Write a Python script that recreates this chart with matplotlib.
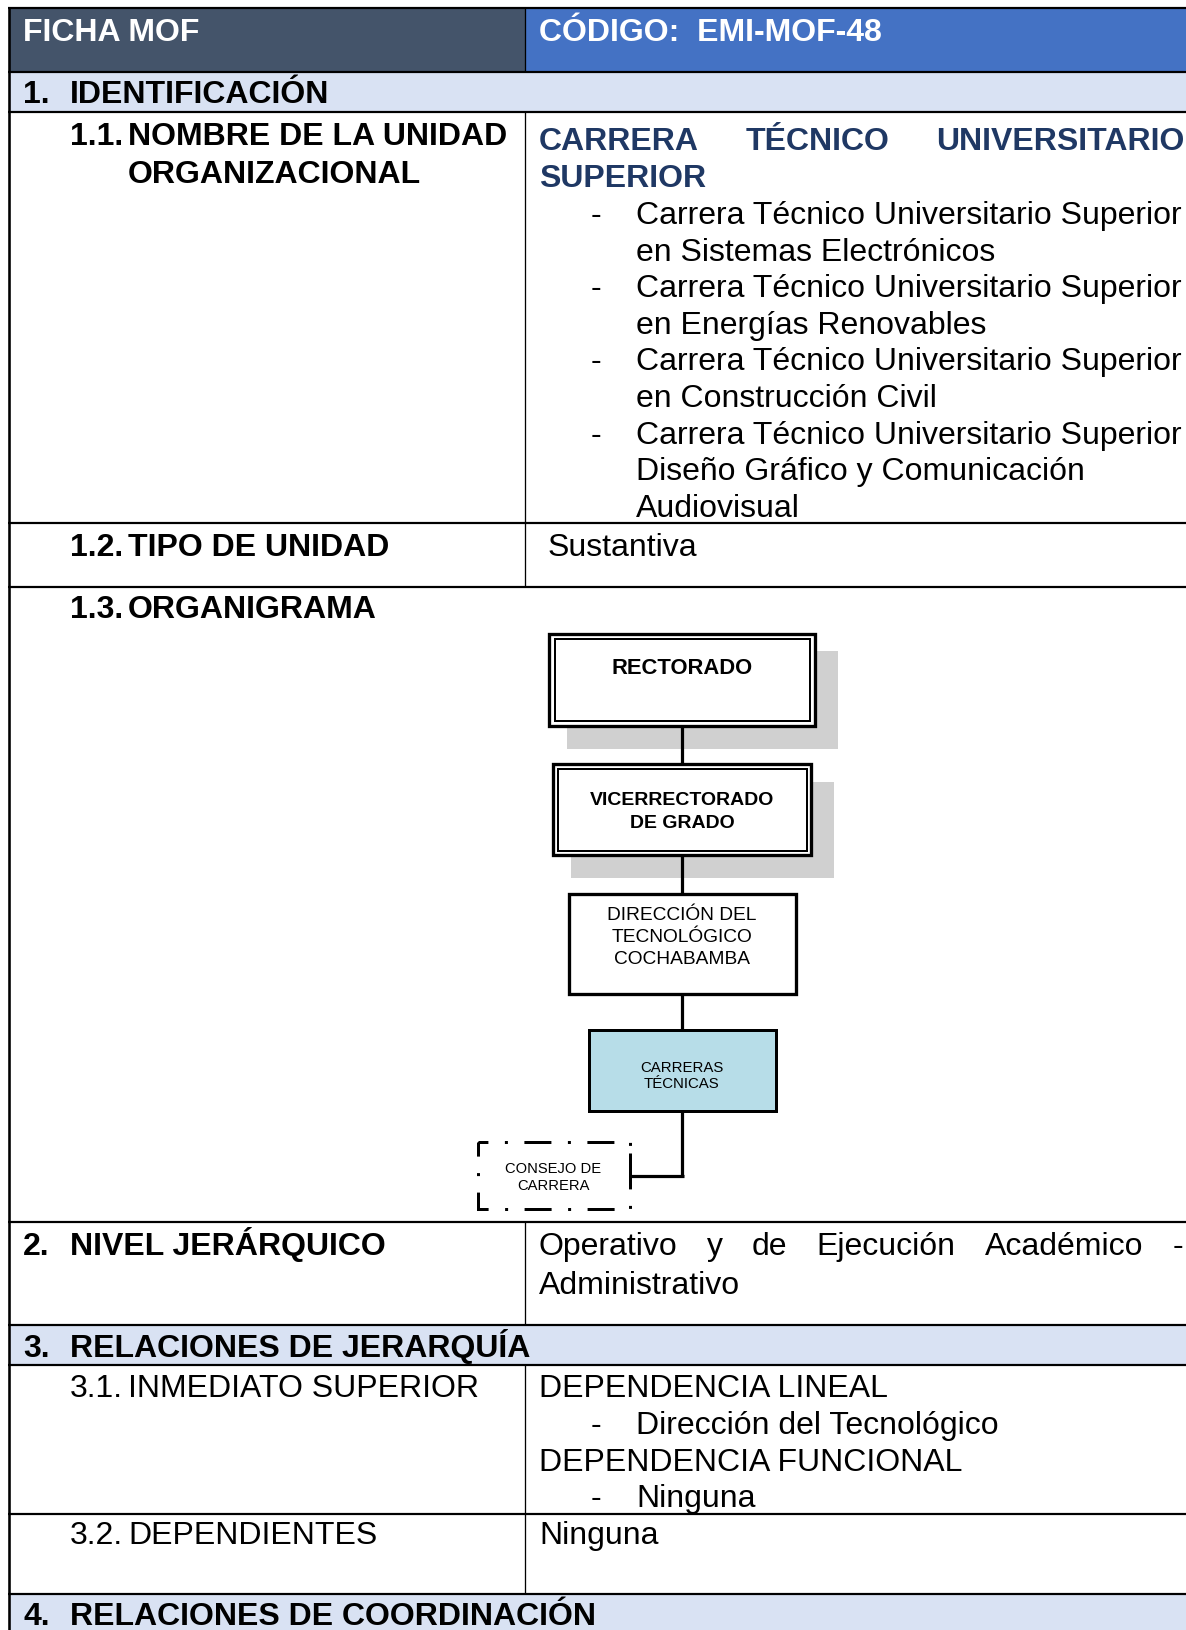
import matplotlib
matplotlib.use("Agg")
import matplotlib.pyplot as plt
from matplotlib.patches import Rectangle

# ---------------- content ----------------
header_left = "FICHA MOF"
header_right = "CÓDIGO:  EMI-MOF-48"
sec1 = ("1.", "IDENTIFICACIÓN")
sec3 = ("3.", "RELACIONES DE JERARQUÍA")
sec4 = ("4.", "RELACIONES DE COORDINACIÓN")
row11_num = "1.1."
row11_label = ["NOMBRE DE LA UNIDAD", "ORGANIZACIONAL"]
unit_title_line1 = ["CARRERA", "TÉCNICO", "UNIVERSITARIO"]
unit_title_line2 = "SUPERIOR"
careers = [
    ["Carrera Técnico Universitario Superior", "en Sistemas Electrónicos"],
    ["Carrera Técnico Universitario Superior", "en Energías Renovables"],
    ["Carrera Técnico Universitario Superior", "en Construcción Civil"],
    ["Carrera Técnico Universitario Superior", "Diseño Gráfico y Comunicación", "Audiovisual"],
]
row12 = ("1.2.", "TIPO DE UNIDAD", "Sustantiva")
row13 = ("1.3.", "ORGANIGRAMA")
org_units = ["RECTORADO", ["VICERRECTORADO", "DE GRADO"],
             ["DIRECCIÓN DEL", "TECNOLÓGICO", "COCHABAMBA"],
             ["CARRERAS", "TÉCNICAS"], ["CONSEJO DE", "CARRERA"]]
row2 = ("2.", "NIVEL JERÁRQUICO")
row2_line1 = ["Operativo", "y", "de", "Ejecución", "Académico", "-"]
row2_line2 = "Administrativo"
row31 = ("3.1.", "INMEDIATO SUPERIOR")
row31_right = [("DEPENDENCIA LINEAL", False), ("Dirección del Tecnológico", True),
               ("DEPENDENCIA FUNCIONAL", False), ("Ninguna", True)]
row32 = ("3.2.", "DEPENDIENTES", "Ninguna")

# ---------------- styling ----------------
W, H = 1186, 1631
FONT = "Liberation Sans"
FS = 23.0
NAVY = "#1F3864"
HDR_L = "#44546A"
HDR_R = "#4472C4"
SEC = "#D9E2F3"
SHADOW = "#D0D0D0"
LIGHTBLUE = "#B7DDE8"
PX = 0.72  # points per pixel at dpi 100

fig = plt.figure(figsize=(W / 100, H / 100), dpi=100)
ax = fig.add_axes([0, 0, 1, 1])
ax.set_xlim(0, W)
ax.set_ylim(H, 0)
ax.axis("off")
renderer = fig.canvas.get_renderer()


def put(x, yc, s, size=FS, bold=False, color="black", ha="left"):
    base = yc + 0.358 * size * 100 / 72
    return ax.text(x, base, s, fontsize=size, fontfamily=FONT,
                   fontweight="bold" if bold else "normal", color=color,
                   ha=ha, va="baseline")


def justify(x0, x1, yc, words, size=FS, bold=False, color="black"):
    ts = [put(x0, yc, w, size, bold, color) for w in words]
    widths = [t.get_window_extent(renderer).width for t in ts]
    gap = (x1 - x0 - sum(widths)) / (len(words) - 1)
    x = x0
    for t, w in zip(ts, widths):
        t.set_x(x)
        x += w + gap


def rect(x0, y0, x1, y1, **kw):
    ax.add_patch(Rectangle((x0, y0), x1 - x0, y1 - y0, **kw))


def hline(y, x0, x1, lw=2.0):
    ax.plot([x0, x1], [y, y], color="black", lw=lw * PX, solid_capstyle="butt")


def vline(x, y0, y1, lw=2.0):
    ax.plot([x, x], [y0, y1], color="black", lw=lw * PX, solid_capstyle="butt")


# ---------------- table geometry ----------------
XL, XD, XR = 8.5, 525, W + 5
rows = [9, 73, 113, 524, 588, 1223, 1326, 1366, 1515, 1595]

# fills
rect(XL, rows[0], XD, rows[1], facecolor=HDR_L, edgecolor="none")
rect(XD, rows[0], XR, rows[1], facecolor=HDR_R, edgecolor="none")
rect(XL, rows[1], XR, rows[2], facecolor=SEC, edgecolor="none")
rect(XL, rows[6], XR, rows[7], facecolor=SEC, edgecolor="none")
rect(XL, rows[9], XR, H + 5, facecolor=SEC, edgecolor="none")

# lines
for y in rows:
    hline(y, XL - 1, XR, lw=2.2)
vline(XL, rows[0] - 1, H + 5, lw=2.6)
for a, b in [(0, 1), (2, 3), (3, 4), (5, 6), (7, 8), (8, 9)]:
    vline(XD, rows[a], rows[b], lw=1.3)

# ---------------- table text ----------------
XN1, XT1 = 23, 70        # level-1 number / title
XN2, XT2 = 70, 128       # level-2 number / title
XC = 539                 # right column text
XB, XBT = 591, 636       # bullet / bullet text
LS = 36.6                # line spacing

put(23, 30, header_left, bold=True, color="white")
put(XC, 30, header_right, bold=True, color="white")

put(XN1, 91.5, sec1[0], bold=True)
put(XT1, 91.5, sec1[1], bold=True)

put(XN2, 134, row11_num, bold=True)
put(XT2, 134, row11_label[0], bold=True)
put(XT2, 172, row11_label[1], bold=True)

justify(XC, 1184, 138.5, unit_title_line1, bold=True, color=NAVY)
put(XC, 175.5, unit_title_line2, bold=True, color=NAVY)

y = 212.5
for item in careers:
    put(XB, y, "-")
    for line in item:
        put(XBT, y, line)
        y += LS

put(XN2, 545, row12[0], bold=True)
put(XT2, 545, row12[1], bold=True)
put(548, 545, row12[2])

put(XN2, 607, row13[0], bold=True)
put(XT2, 607, row13[1], bold=True)

put(XN1, 1244, row2[0], bold=True)
put(XT1, 1244, row2[1], bold=True)
justify(XC, 1183, 1244, row2_line1)
put(XC, 1283, row2_line2)

put(XN1, 1345.5, sec3[0], bold=True)
put(XT1, 1345.5, sec3[1], bold=True)

put(XN2, 1386, row31[0])
put(XT2, 1386, row31[1])
y = 1386
for s, bullet in row31_right:
    if bullet:
        put(XB, y, "-")
        put(XBT, y, s)
    else:
        put(XC, y, s)
    y += LS

put(XN2, 1533, row32[0])
put(XT2, 1533, row32[1])
put(XC, 1533, row32[2])

put(XN1, 1614, sec4[0], bold=True)
put(XT1, 1614, sec4[1], bold=True)

# ---------------- organigram ----------------
CX = 682
LW_BOX = 3.3 * PX

# connectors
for y0, y1 in [(728, 764), (857, 894), (996, 1030), (1112, 1177)]:
    vline(CX, y0, y1, lw=3.2)
hline(1177, 630, CX + 1.6, lw=3.2)

# RECTORADO
rect(567, 652, 838, 750, facecolor=SHADOW, edgecolor="none")
rect(548.7, 634.7, 815.3, 727.3, facecolor="white", edgecolor="black", lw=LW_BOX)
rect(554.5, 640, 809.5, 722, facecolor="none", edgecolor="black", lw=2.0 * PX)
put(CX, 666, org_units[0], size=15.8, bold=True, ha="center")

# VICERRECTORADO
rect(571, 783, 834, 879, facecolor=SHADOW, edgecolor="none")
rect(552.7, 764.7, 811.3, 856.3, facecolor="white", edgecolor="black", lw=LW_BOX)
rect(557.5, 769.5, 806.5, 851.5, facecolor="none", edgecolor="black", lw=2.0 * PX)
put(CX, 798, org_units[1][0], size=14, bold=True, ha="center")
put(CX, 821, org_units[1][1], size=14, bold=True, ha="center")

# DIRECCION
rect(568.7, 894.7, 796.3, 995.3, facecolor="white", edgecolor="black", lw=LW_BOX)
for i, s in enumerate(org_units[2]):
    put(CX, 913 + 22 * i, s, size=13.8, ha="center")

# CARRERAS TECNICAS
rect(588.5, 1030.5, 775.5, 1111.5, facecolor=LIGHTBLUE, edgecolor="black", lw=3.0 * PX)
put(CX, 1067, org_units[3][0], size=10.8, ha="center")
put(CX, 1083, org_units[3][1], size=10.8, ha="center")

# CONSEJO DE CARRERA (long dash - dot)
rect(477.5, 1142.5, 630, 1210, facecolor="none", edgecolor="black", lw=3.0 * PX,
     linestyle=(5.7, (9, 5.5, 1, 5.5)))
vline(630, 1154, 1182, lw=3.0)
put(553, 1168, org_units[4][0], size=10.6, ha="center")
put(553, 1185, org_units[4][1], size=10.6, ha="center")

fig.savefig("out.png", dpi=100)
